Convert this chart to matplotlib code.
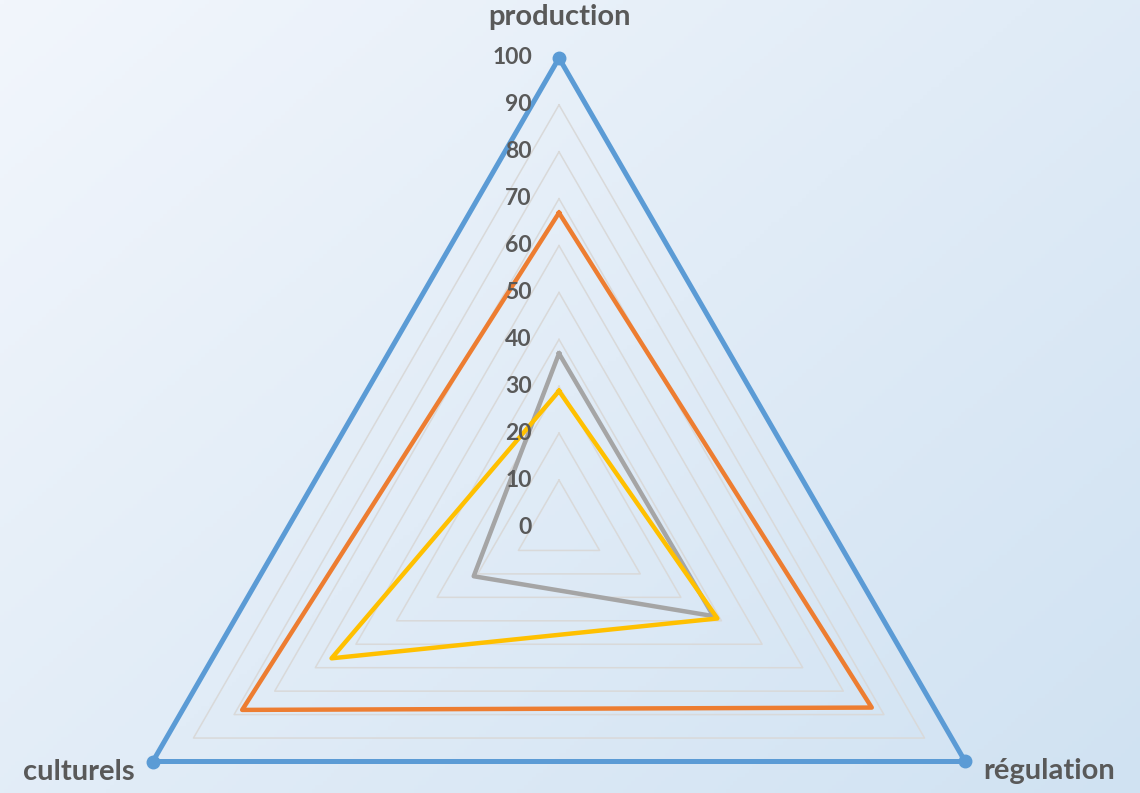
import numpy as np
import matplotlib
matplotlib.use("Agg")
import matplotlib.pyplot as plt
from matplotlib.transforms import offset_copy

# axes of the radar, clockwise from the top
categories = ['production', 'régulation', 'culturels']
ticks = [0, 10, 20, 30, 40, 50, 60, 70, 80, 90, 100]

serie_1 = [100, 100, 100]
serie_2 = [67, 77, 78]
serie_3 = [37, 38, 21]
serie_4 = [29, 39, 56]

plt.rcParams['font.family'] = ['Lato', 'DejaVu Sans']
text_color = '#595959'

fig = plt.figure(figsize=(11.4, 7.93), dpi=100)

# background gradient, light in the top left corner
bg = fig.add_axes([0, 0, 1, 1])
yy, xx = np.mgrid[0:1:200j, 0:1:300j]
t = (0.55 * xx + 0.45 * yy)
top = np.array([242, 246, 252]) / 255
bottom = np.array([208, 226, 242]) / 255
img = top[None, None, :] * (1 - t[..., None]) + bottom[None, None, :] * t[..., None]
bg.imshow(img, aspect='auto', extent=[0, 1, 1, 0])
bg.axis('off')

# polar axes: centre at (559, 527) px, radius 469 px
cx, cy, R = 559, 527, 469
W, H = 1140, 793
ax = fig.add_axes([(cx - R) / W, (H - cy - R) / H, 2 * R / W, 2 * R / H], projection='polar')
ax.set_theta_offset(np.pi / 2)
ax.set_theta_direction(-1)
ax.set_ylim(0, 100)
ax.patch.set_alpha(0)
ax.spines['polar'].set_visible(False)
ax.grid(False)
ax.set_xticks([])
ax.set_yticks([])

angles = np.linspace(0, 2 * np.pi, len(categories), endpoint=False)
closed = np.append(angles, angles[0])

# triangular grid
for r in ticks[1:-1]:
    ax.plot(closed, [r] * 4, color='#d9d9d9', lw=1.1, zorder=1)

def close(vals):
    return vals + vals[:1]

ax.plot(closed, close(serie_1), color='#5B9BD5', lw=3.6, zorder=3, clip_on=False,
        marker='o', markersize=9, markevery=[0, 1, 2])
ax.plot(closed, close(serie_2), color='#ED7D31', lw=3.2, zorder=4)
ax.plot(closed, close(serie_3), color='#A5A5A5', lw=3.2, zorder=5)
ax.plot(closed, close(serie_4), color='#FFC000', lw=3.2, zorder=6)

# value labels along the top axis
tick_tr = offset_copy(ax.transData, fig=fig, x=-27, y=0, units='dots')
for r in ticks:
    ax.text(0, r, str(r), transform=tick_tr, ha='right', va='center',
            fontsize=16.5, fontweight='bold', color=text_color, zorder=7)

# category labels
offsets = [(0, 41, 'center'), (18, -10, 'left'), (-18, -10, 'right')]
for ang, name, (dx, dy, ha) in zip(angles, categories, offsets):
    tr = offset_copy(ax.transData, fig=fig, x=dx, y=dy, units='dots')
    ax.text(ang, 100, name, transform=tr, ha=ha, va='center',
            fontsize=21, fontweight='bold', color=text_color, zorder=7)

fig.savefig('out.png', dpi=100)
